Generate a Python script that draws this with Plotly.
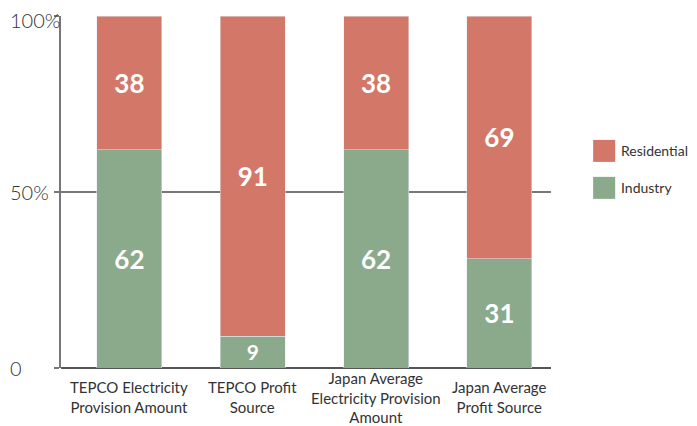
import plotly.graph_objects as go

categories = ["TEPCO Electricity<br>Provision Amount", "TEPCO Profit<br>Source",
              "Japan Average<br>Electricity Provision<br>Amount", "Japan Average<br>Profit Source"]
industry = [62, 9, 62, 31]
residential = [38, 91, 38, 69]
tick_vals = [0, 50, 100]
tick_text = ["0", "50%", "100%"]
legend_names = ["Residential", "Industry"]

RED = "#D37869"
GREEN = "#8AAA8B"
FONT = "Lato"
legend_colors = [RED, GREEN]

fig = go.Figure()
fig.add_trace(go.Bar(x=categories, y=industry, name="Industry", marker_color=GREEN,
                     text=industry, textposition="inside", insidetextanchor="middle",
                     textangle=0, textfont=dict(size=26, color="white", family=FONT, weight="bold"),
                     width=0.527, showlegend=False))
fig.add_trace(go.Bar(x=categories, y=residential, name="Residential", marker_color=RED,
                     text=residential, textposition="inside", insidetextanchor="middle",
                     textangle=0, textfont=dict(size=26, color="white", family=FONT, weight="bold"),
                     width=0.527, showlegend=False))

# y tick labels, left aligned like the reference
for v, t in zip(tick_vals, tick_text):
    fig.add_annotation(xref="paper", yref="y", x=-0.108, y=v, text=t, showarrow=False,
                       xanchor="left", yanchor="middle", height=16, valign="middle",
                       yshift=-4 if v == max(tick_vals) else 0,
                       font=dict(size=20, color="#333333", family=FONT, weight=300))

# category labels, vertically centred in the band under the axis like the reference
for c in categories:
    fig.add_annotation(xref="x", yref="paper", x=c, y=-0.083, text=c, showarrow=False,
                       xanchor="center", yanchor="middle", align="center",
                       font=dict(size=15, color="#333333", family=FONT))

# custom legend (larger swatches, wider spacing than plotly's built-in legend)
sw_x0, sw_x1, txt_x = 1.086, 1.131, 1.139
row_top = [0.648, 0.543]
sw_h = 0.0625
for name, col, top in zip(legend_names, legend_colors, row_top):
    fig.add_shape(type="rect", xref="paper", yref="paper", x0=sw_x0, x1=sw_x1,
                  y0=top - sw_h, y1=top, fillcolor=col, line_width=0)
    fig.add_annotation(xref="paper", yref="paper", x=txt_x, y=top - sw_h / 2, text=name,
                       showarrow=False, xanchor="left", yanchor="middle",
                       font=dict(size=14, color="#333333", family=FONT))

fig.update_layout(
    barmode="stack",
    width=689, height=418,
    margin=dict(l=53, r=146, t=8, b=58, autoexpand=False),
    plot_bgcolor="white", paper_bgcolor="white",
    font=dict(family=FONT, color="#333333", size=14),
    showlegend=False,
    xaxis=dict(showgrid=False, showline=False, ticks="", automargin=False,
               range=[-0.555, 3.418], showticklabels=False),
    yaxis=dict(range=[0, 100], tickvals=tick_vals, showticklabels=False, showgrid=True,
               automargin=False,
               gridcolor="#777777", gridwidth=1.5, showline=True, linecolor="#777777", linewidth=2,
               ticks="outside", ticklen=5, tickcolor="#777777", tickwidth=1.5,
               zeroline=True, zerolinecolor="#555555", zerolinewidth=2),
)
fig.write_html("out.html")
